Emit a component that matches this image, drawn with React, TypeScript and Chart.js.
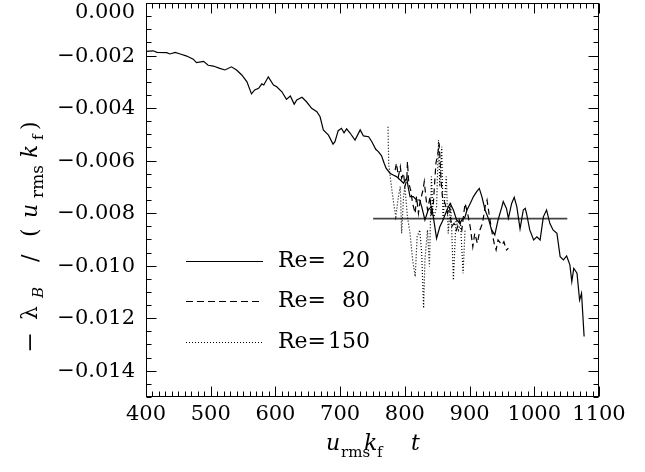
import React, { useEffect, useRef } from 'react';
import { Chart, registerables } from 'chart.js';
Chart.register(...registerables);

// ---- data (time in u_rms k_f t, growth rate values) ----
const re20T = [400, 411, 417, 432, 437, 445, 453, 463, 473, 478, 489, 496, 504, 514, 522, 532, 540, 548, 556, 563, 568, 574, 579, 582, 589, 597, 602, 610, 617, 623, 629, 633, 641, 648, 656, 664, 669, 674, 682, 689, 692, 697, 702, 706, 710, 715, 723, 731, 736, 744, 749, 755, 759, 764, 768, 771, 777, 782, 787, 793, 798, 803, 805, 808, 813, 818, 823, 826, 831, 836, 841, 844, 847, 849, 854, 859, 865, 870, 875, 880, 885, 888, 893, 896, 901, 906, 911, 915, 919, 924, 929, 934, 939, 944, 950, 952, 957, 960, 965, 969, 973, 978, 983, 986, 988, 993, 999, 1004, 1009, 1014, 1019, 1024, 1029, 1035, 1040, 1045, 1050, 1055, 1058, 1061, 1066, 1070, 1073, 1077];
const re20V = [-0.00184, -0.00182, -0.00188, -0.00189, -0.00194, -0.00188, -0.00194, -0.00202, -0.00214, -0.00227, -0.00222, -0.00237, -0.0024, -0.00249, -0.00255, -0.00243, -0.00255, -0.00274, -0.003, -0.00346, -0.00331, -0.00325, -0.00308, -0.00312, -0.00281, -0.00312, -0.00319, -0.00338, -0.00367, -0.00354, -0.00385, -0.00369, -0.00359, -0.00376, -0.00401, -0.00414, -0.00433, -0.00483, -0.00503, -0.00537, -0.00528, -0.00486, -0.00477, -0.00494, -0.00479, -0.00494, -0.00522, -0.00483, -0.00506, -0.00509, -0.00528, -0.00557, -0.00566, -0.00582, -0.0061, -0.00629, -0.00648, -0.00655, -0.00661, -0.00674, -0.00686, -0.00667, -0.00699, -0.00737, -0.00737, -0.0075, -0.0075, -0.00775, -0.00826, -0.00788, -0.00775, -0.00814, -0.00864, -0.00896, -0.00852, -0.00826, -0.00788, -0.00763, -0.00788, -0.00826, -0.00839, -0.00826, -0.00814, -0.00788, -0.00763, -0.00737, -0.00718, -0.00706, -0.00737, -0.00788, -0.0082, -0.00864, -0.00883, -0.00826, -0.00775, -0.00756, -0.00782, -0.0082, -0.00763, -0.0074, -0.00775, -0.0086, -0.00788, -0.00782, -0.00801, -0.00864, -0.00902, -0.0089, -0.00902, -0.00814, -0.00788, -0.00839, -0.00864, -0.00877, -0.00966, -0.00978, -0.00963, -0.00997, -0.01061, -0.0101, -0.01029, -0.01131, -0.01105, -0.0127];

const re80T = [785, 787, 790, 793, 795, 798, 800, 803, 804, 806, 809, 812, 816, 818, 821, 823, 828, 830, 833, 835, 839, 841, 844, 848, 851, 853, 856, 858, 862, 866, 869, 872, 876, 880, 884, 888, 893, 897, 901, 905, 908, 912, 916, 920, 924, 927, 930, 934, 938, 941, 944, 950, 953, 957, 960];
const re80V = [-0.00636, -0.0061, -0.00661, -0.00623, -0.00667, -0.00648, -0.00699, -0.00674, -0.00604, -0.00686, -0.00712, -0.00763, -0.00801, -0.00737, -0.00801, -0.00763, -0.00712, -0.0068, -0.0075, -0.00788, -0.00737, -0.00814, -0.00763, -0.0061, -0.00572, -0.00534, -0.00674, -0.00737, -0.00763, -0.00801, -0.00775, -0.00852, -0.00839, -0.00864, -0.00826, -0.00864, -0.00763, -0.00801, -0.00852, -0.00928, -0.00877, -0.00915, -0.00864, -0.00839, -0.00775, -0.0075, -0.00801, -0.00864, -0.00915, -0.0094, -0.00902, -0.00921, -0.00909, -0.0094, -0.00934];

const re150T = [774, 775, 778, 782, 786, 790, 793, 795, 798, 800, 804, 808, 812, 816, 819, 823, 826, 829, 831, 835, 838, 841, 844, 849, 852, 854, 857, 859, 864, 867, 871, 875, 879, 883, 886, 890, 893];
const re150V = [-0.00471, -0.0061, -0.00674, -0.0075, -0.00814, -0.00737, -0.00699, -0.00877, -0.00737, -0.00699, -0.00814, -0.00877, -0.00978, -0.01042, -0.0089, -0.00864, -0.00953, -0.01162, -0.00978, -0.00864, -0.01004, -0.00661, -0.00826, -0.00775, -0.00522, -0.00699, -0.00547, -0.00826, -0.00661, -0.00877, -0.00763, -0.01055, -0.00826, -0.00864, -0.00839, -0.01029, -0.00864];

const meanT = [751, 1051];
const meanV = [-0.00821, -0.00821];

const xTickValues = [400, 500, 600, 700, 800, 900, 1000, 1100];
const yTickValues = [0, -0.002, -0.004, -0.006, -0.008, -0.01, -0.012, -0.014];
const legendRe = ['20', '80', '150'];

const SERIF = "'DejaVu Serif', 'Liberation Serif', serif";

const pts = (t: number[], v: number[]) => t.map((x, i) => ({ x, y: v[i] }));

const fmtY = (v: number) => {
  const s = Math.abs(v).toFixed(3);
  return v < 0 ? '\u2212' + s : s;
};

const framePlugin = {
  id: 'idlFrame',
  afterDatasetsDraw(chart: any) {
    const { ctx, chartArea } = chart;
    const { left, right, top, bottom } = chartArea;
    const xs = chart.scales.x;
    const ys = chart.scales.y;
    ctx.save();
    ctx.strokeStyle = '#000';
    ctx.lineWidth = 1;
    ctx.setLineDash([]);
    const L = Math.round(left) + 0.5, R = Math.round(right) - 0.5;
    const T = Math.round(top) + 0.5, B = Math.round(bottom) - 0.5;
    ctx.strokeRect(L, T, R - L, B - T);
    ctx.beginPath();
    for (let t = 400; t <= 1100; t += 10) {
      const px = Math.round(xs.getPixelForValue(t)) + 0.5;
      const len = t % 100 === 0 ? 10 : 5;
      ctx.moveTo(px, B); ctx.lineTo(px, B - len);
      ctx.moveTo(px, T); ctx.lineTo(px, T + len);
    }
    for (let k = 0; k <= 30; k++) {
      const v = -k * 0.0005;
      const py = Math.round(ys.getPixelForValue(v)) + 0.5;
      const len = k % 4 === 0 ? 10 : 5;
      ctx.moveTo(L, py); ctx.lineTo(L + len, py);
      ctx.moveTo(R, py); ctx.lineTo(R - len, py);
    }
    ctx.stroke();

    // tick labels
    ctx.fillStyle = '#000';
    ctx.font = `21px ${SERIF}`;
    ctx.textAlign = 'right';
    ctx.textBaseline = 'alphabetic';
    yTickValues.forEach((v) => {
      const py = Math.max(ys.getPixelForValue(v), 12);
      ctx.fillText(fmtY(v), left - 11, py + 6);
    });
    ctx.textAlign = 'center';
    xTickValues.forEach((t) => {
      ctx.fillText(String(t), xs.getPixelForValue(t), 420);
    });

    // x title
    ctx.textAlign = 'left';
    const it = `italic 22px ${SERIF}`;
    const sub = `15px ${SERIF}`;
    ctx.font = it; ctx.fillText('u', 326, 450);
    ctx.font = sub; ctx.fillText('rms', 341, 457);
    ctx.font = it; ctx.fillText('k', 364, 450);
    ctx.font = sub; ctx.fillText('f', 377, 457);
    ctx.font = it; ctx.fillText('t', 411, 450);

    // y title (rotated)
    ctx.save();
    ctx.translate(37, 0);
    ctx.rotate(-Math.PI / 2);
    const mainB = 0, subB = 6;
    ctx.font = `22px ${SERIF}`;
    ctx.save(); ctx.translate(-353, mainB); ctx.scale(1.15, 1); ctx.fillText('\u2212', 0, 0); ctx.restore();
    ctx.font = `22px ${SERIF}`; ctx.fillText('\u03bb', -320, mainB);
    ctx.font = `italic 15px ${SERIF}`; ctx.fillText('B', -298, subB);
    ctx.font = `22px ${SERIF}`; ctx.fillText('/', -262, mainB);
    ctx.font = `22px ${SERIF}`; ctx.fillText('(', -237, mainB);
    ctx.font = it; ctx.fillText('u', -218, mainB);
    ctx.font = `17px ${SERIF}`; ctx.fillText('rms', -198, subB);
    ctx.font = it; ctx.fillText('k', -158, mainB);
    ctx.font = `15px ${SERIF}`; ctx.fillText('f', -140, subB);
    ctx.font = `22px ${SERIF}`; ctx.fillText(')', -130, mainB);
    ctx.restore();

    // legend
    const legY = [261, 301, 342];
    const dashes = [[], [7, 4], [1, 2]];
    legY.forEach((y, i) => {
      ctx.beginPath();
      ctx.setLineDash(dashes[i]);
      ctx.lineWidth = 1;
      ctx.moveTo(186, y + 0.5);
      ctx.lineTo(263, y + 0.5);
      ctx.stroke();
      ctx.setLineDash([]);
      ctx.font = `22px ${SERIF}`;
      ctx.textAlign = 'left';
      ctx.fillText('Re=', 278, y + 6);
      ctx.textAlign = 'right';
      ctx.fillText(legendRe[i], 370, y + 6);
    });
    ctx.restore();
  },
};

export default function App() {
  const ref = useRef<HTMLCanvasElement | null>(null);
  useEffect(() => {
    if (!ref.current) return;
    const chart = new Chart(ref.current, {
      type: 'line',
      data: {
        datasets: [
          { data: pts(re20T, re20V), borderColor: '#000', borderWidth: 1.2, pointRadius: 0, tension: 0, fill: false },
          { data: pts(re80T, re80V), borderColor: '#000', borderWidth: 1.2, borderDash: [6, 4], pointRadius: 0, tension: 0, fill: false },
          { data: pts(re150T, re150V), borderColor: '#000', borderWidth: 1.2, borderDash: [1, 2], pointRadius: 0, tension: 0, fill: false },
          { data: pts(meanT, meanV), borderColor: '#444', borderWidth: 1.6, pointRadius: 0, tension: 0, fill: false },
        ],
      },
      options: {
        responsive: false,
        animation: false,
        devicePixelRatio: 1,
        layout: { padding: { left: 0, right: 46, top: 3, bottom: 0 } },
        plugins: { legend: { display: false }, tooltip: { enabled: false } },
        scales: {
          x: {
            type: 'linear', min: 400, max: 1100,
            grid: { display: false }, border: { display: false },
            ticks: { display: false },
            afterFit: (s: any) => { s.height = 75; },
          },
          y: {
            type: 'linear', min: -0.015, max: 0,
            grid: { display: false }, border: { display: false },
            ticks: { display: false },
            afterFit: (s: any) => { s.width = 146; },
          },
        },
      },
      plugins: [framePlugin],
    } as any);
    return () => chart.destroy();
  }, []);
  return (
    <div style={{ position: 'absolute', left: 0, top: 0, width: 645, height: 472, background: '#fff' }}>
      <canvas ref={ref} width={645} height={472} style={{ width: 645, height: 472 }} />
    </div>
  );
}
